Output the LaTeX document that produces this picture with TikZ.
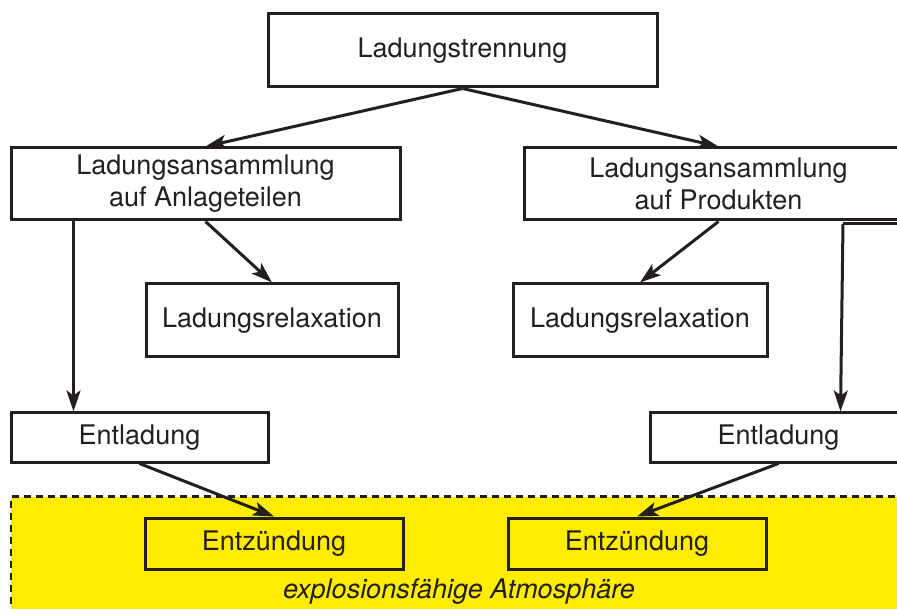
\documentclass[tikz,border=0pt]{standalone}
\usepackage{fontspec}
\setmainfont{TeX Gyre Heros}
\usetikzlibrary{arrows.meta}
\definecolor{ink}{HTML}{231F20}
\definecolor{signalyellow}{HTML}{FFED00}
\begin{document}
\begin{tikzpicture}[x=1pt,y=-1pt,
  box/.style={draw=ink, line width=3pt, inner sep=0pt, align=center, text=ink,
    font=\fontsize{27}{32}\selectfont},
  arr/.style={draw=ink, line width=3pt, -{Stealth[length=21pt,width=14pt,inset=5pt]}},
  plain/.style={draw=ink, line width=3pt},
  zone/.style={draw=ink, line width=2.4pt, dash pattern=on 7pt off 5pt}]
\useasboundingbox (0,0) rectangle (897,609);
\clip (0,0) rectangle (897,609);
% explosive atmosphere zone
\fill[signalyellow] (11,496.5) rectangle (930,640);
\draw[zone] (11,640) -- (11,496.5) -- (930,496.5);
\node[text=ink, font=\fontsize{27}{32}\selectfont\itshape] (atm) at (459,592) {explosionsfähige Atmosphäre};
% boxes
\node[box, minimum width=389, minimum height=73] (t) at (462.5,50.5) {Ladungstrennung};
\node[box, minimum width=389, minimum height=72] (la) at (205.5,184) {Ladungsansammlung\\auf Anlageteilen};
\node[box, minimum width=389, minimum height=72] (ra) at (718.5,184) {Ladungsansammlung\\auf Produkten};
\node[box, minimum width=252, minimum height=73] (lr) at (272,320.5) {Ladungsrelaxation};
\node[box, minimum width=254, minimum height=73] (rr) at (640,320.5) {Ladungsrelaxation};
\node[box, minimum width=257, minimum height=49] (le) at (139.5,437.5) {Entladung};
\node[box, minimum width=257, minimum height=49] (re) at (778.5,437.5) {Entladung};
\node[box, minimum width=258, minimum height=51] (lz) at (274,543.5) {Entzündung};
\node[box, minimum width=258, minimum height=51] (rz) at (637,543.5) {Entzündung};
% connectors
\draw[arr] (t.south) -- (la.north);
\draw[arr] (t.south) -- (ra.north);
\draw[arr] (la.south) -- (lr.north);
\draw[arr] (ra.south) -- (rr.north);
\draw[arr] ([xshift=64pt]la.south west) -- ([xshift=64pt]le.north west);
\coordinate (rin) at (930,224);
\coordinate (rc) at (843,224);
\draw[plain] (rin) -- (rc);
\draw[arr] (rc) -- ([xshift=192pt]re.north west);
\draw[arr] (le.south) -- (lz.north);
\draw[arr] (re.south) -- (rz.north);
\end{tikzpicture}
\end{document}
